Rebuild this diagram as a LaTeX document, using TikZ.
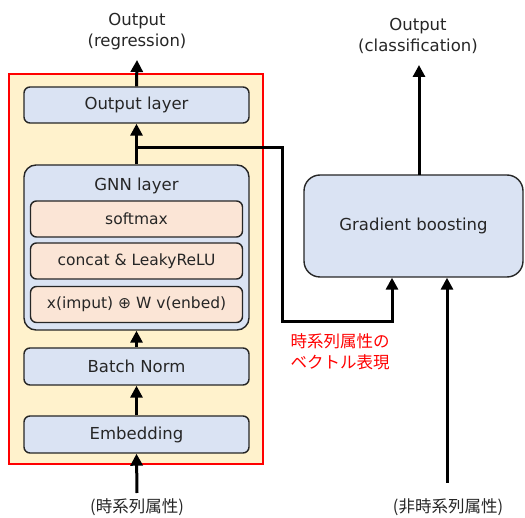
\documentclass[tikz,border=0pt]{standalone}
\usepackage{fontspec}
\setmainfont{DejaVu Sans}
\newfontfamily\jp{Noto Sans CJK JP}
\usetikzlibrary{arrows.meta}
\definecolor{boxblue}{HTML}{DAE3F3}
\definecolor{boxpeach}{HTML}{FBE5D6}
\definecolor{panel}{HTML}{FFF2CC}
\definecolor{txt}{HTML}{262626}
\definecolor{pure}{HTML}{FF0000}
\tikzset{
  blk/.style={draw=black!85, line width=1.4pt, fill=boxblue, rounded corners=6pt,
    minimum width=225pt, minimum height=36pt, inner sep=0pt, text=txt, font=\fontsize{16.5}{19}\selectfont},
  sub/.style={draw=black!85, line width=1.4pt, fill=boxpeach, rounded corners=6pt,
    minimum width=212pt, minimum height=36pt, inner sep=0pt, text=txt, font=\fontsize{15.5}{18}\selectfont},
  lbl/.style={text=txt, align=center, font=\fontsize{16.5}{21}\selectfont, inner sep=0pt},
  jlbl/.style={text=txt, align=center, font=\jp\fontsize{16.5}{21}\selectfont, inner sep=0pt},
  arr/.style={line width=3pt, -{Triangle[width=12pt,length=12pt]}},
}
\begin{document}
\begin{tikzpicture}[x=1pt,y=-1pt]
\useasboundingbox (0,0) rectangle (525,518);
\draw[draw=pure, line width=1.2pt, fill=panel] (9,74) rectangle (263,464);
\node[blk] (outl) at (136.5,105) {Output layer};
\node[blk, minimum height=165pt, rounded corners=12pt] (gnn) at (136.5,247.5) {};
\node[lbl] (gnnt) at (136.5,186) {GNN layer};
\node[sub] (soft) at (136.5,219) {softmax};
\node[sub] (conc) at (136.5,261) {concat \& LeakyReLU};
\node[sub] (xin) at (136.5,304.5) {x(imput) ⊕ W v(enbed)};
\node[blk, minimum height=37pt] (bn) at (136.5,366.5) {Batch Norm};
\node[blk, minimum height=37pt] (emb) at (136.5,434.5) {Embedding};
\node[blk, minimum width=219pt, minimum height=102pt, rounded corners=16pt] (gb) at (413.5,226) {Gradient boosting};
\node[lbl] (o1) at (137,32) {Output\\(regression)};
\node[lbl] (o2) at (418,36) {Output\\(classification)};
\node[jlbl] (i1) at (137,507) {(時系列属性)};
\node[jlbl] (i2) at (448,507) {(非時系列属性)};
\node[jlbl, text=pure] (vec) at (340,352) {時系列属性の\\ベクトル表現};
\coordinate (o1t) at (137,60);
\coordinate (o2b) at (419,175);
\coordinate (o2t) at (419,65);
\coordinate (i1b) at (137,493);
\coordinate (i2b) at (447,483);
\coordinate (br) at (137,148);
\coordinate (t1) at (282,148);
\coordinate (t2) at (282,322);
\coordinate (t3) at (392,322);
\draw[arr] (outl.north) -- (o1t);
\draw[arr] (gnn.north) -- (outl.south);
\draw[arr] (bn.north) -- (gnn.south);
\draw[arr] (emb.north) -- (bn.south);
\draw[arr] (i1b) -- (emb.south);
\draw[arr] (o2b) -- (o2t);
\draw[arr] (i2b) -- (i2b |- gb.south);
\draw[arr, line join=miter] (br) -- (t1) -- (t2) -- (t3) -- (t3 |- gb.south);
\end{tikzpicture}
\end{document}
